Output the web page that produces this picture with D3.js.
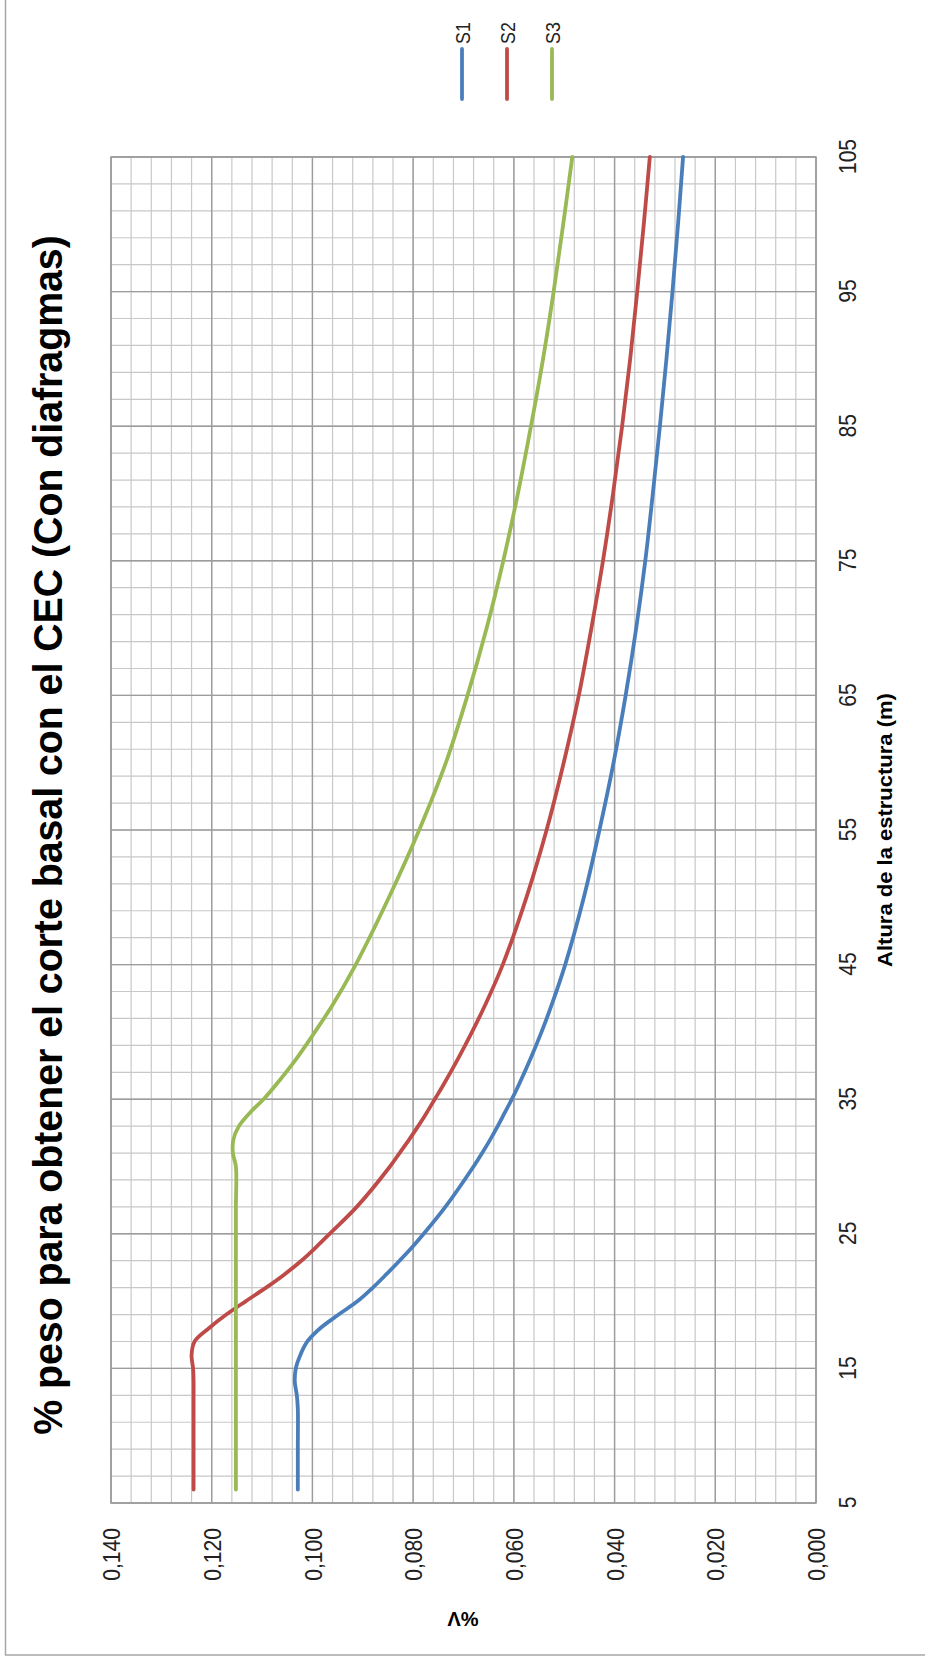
<!DOCTYPE html>
<html><head><meta charset="utf-8">
<script src="https://cdn.jsdelivr.net/npm/d3@7"></script>
<style>html,body{margin:0;padding:0;background:#fff;} svg{display:block;}</style>
</head><body>
<svg id="chart" width="925" height="1661"></svg>
<script>
// ---- data ----
const alturas = [6, 9, 12, 13, 14, 15, 16, 17, 18, 19, 20, 21, 22, 23, 24, 25, 27, 30, 31, 32, 33, 34, 35, 36, 38, 40, 42, 45, 50, 55, 60, 65, 70, 75, 80, 85, 90, 95, 100, 105];
const serieS1 = [0.1029, 0.1029, 0.1029, 0.1031, 0.1035, 0.1033, 0.1024, 0.1010, 0.0984, 0.0948, 0.0910, 0.0880, 0.0853, 0.0827, 0.0802, 0.0779, 0.0736, 0.0680, 0.0663, 0.0647, 0.0632, 0.0618, 0.0604, 0.0591, 0.0567, 0.0545, 0.0525, 0.0498, 0.0461, 0.0430, 0.0402, 0.0378, 0.0357, 0.0339, 0.0324, 0.0310, 0.0297, 0.0285, 0.0274, 0.0264];
const serieS2 = [0.1236, 0.1236, 0.1236, 0.1236, 0.1236, 0.1237, 0.1240, 0.1234, 0.1205, 0.1171, 0.1132, 0.1092, 0.1055, 0.1022, 0.0993, 0.0966, 0.0912, 0.0846, 0.0827, 0.0808, 0.0790, 0.0773, 0.0757, 0.0741, 0.0711, 0.0683, 0.0657, 0.0622, 0.0575, 0.0535, 0.0501, 0.0471, 0.0446, 0.0423, 0.0403, 0.0385, 0.0369, 0.0355, 0.0342, 0.0330];
const serieS3 = [0.1152, 0.1152, 0.1152, 0.1152, 0.1152, 0.1152, 0.1152, 0.1152, 0.1152, 0.1152, 0.1152, 0.1152, 0.1152, 0.1152, 0.1152, 0.1152, 0.1152, 0.1152, 0.1158, 0.1157, 0.1146, 0.1124, 0.1097, 0.1074, 0.1032, 0.0995, 0.0960, 0.0914, 0.0848, 0.0788, 0.0735, 0.0692, 0.0654, 0.0621, 0.0592, 0.0566, 0.0542, 0.0521, 0.0502, 0.0484];
const seriesNames = ["S1", "S2", "S3"];
const seriesColors = ["#4A7EBB", "#BE4B48", "#98B954"];
const xTicks = [5, 15, 25, 35, 45, 55, 65, 75, 85, 95, 105];
const yTicks = [0, 0.02, 0.04, 0.06, 0.08, 0.10, 0.12, 0.14];
const chartTitle = "% peso para obtener el corte basal con el CEC (Con diafragmas)";
const xTitle = "Altura de la estructura (m)";
const yTitle = "%V";

// ---- layout (chart drawn in unrotated frame, then rotated -90deg) ----
const PW = 1661, PH = 925;
const FONT = "'Liberation Sans', Arial, sans-serif";
const svg = d3.select("#chart");

// outer chart border
svg.append("rect").attr("x", 5.5).attr("y", -10).attr("width", 940).attr("height", 1665)
  .attr("fill", "#fff").attr("stroke", "#a6a6a6").attr("stroke-width", 1.5);

const g = svg.append("g").attr("transform", `translate(0,${PW}) rotate(-90)`);

const x = d3.scaleLinear().domain([5, 105]).range([158, 1504]);
const y = d3.scaleLinear().domain([0, 0.14]).range([816, 111]);

// grid
const minorX = d3.range(5, 105.001, 2);
const minorY = d3.range(0, 0.14001, 0.004);
const grid = g.append("g");
grid.selectAll("line.mx").data(minorX).join("line").attr("class", "mx")
  .attr("x1", d => x(d)).attr("x2", d => x(d)).attr("y1", y(0)).attr("y2", y(0.14))
  .attr("stroke", "#c8c8c8").attr("stroke-width", 1.2);
grid.selectAll("line.my").data(minorY).join("line").attr("class", "my")
  .attr("y1", d => y(d)).attr("y2", d => y(d)).attr("x1", x(5)).attr("x2", x(105))
  .attr("stroke", "#c8c8c8").attr("stroke-width", 1.2);
grid.selectAll("line.Mx").data(xTicks).join("line").attr("class", "Mx")
  .attr("x1", d => x(d)).attr("x2", d => x(d)).attr("y1", y(0)).attr("y2", y(0.14))
  .attr("stroke", "#9c9c9c").attr("stroke-width", 1.4);
grid.selectAll("line.My").data(yTicks).join("line").attr("class", "My")
  .attr("y1", d => y(d)).attr("y2", d => y(d)).attr("x1", x(5)).attr("x2", x(105))
  .attr("stroke", "#9c9c9c").attr("stroke-width", 1.4);
g.append("rect").attr("x", x(5)).attr("y", y(0.14)).attr("width", x(105) - x(5)).attr("height", y(0) - y(0.14))
  .attr("fill", "none").attr("stroke", "#9c9c9c").attr("stroke-width", 1.5);

// axes
const TS = 0.88;
const fmtES = d3.formatLocale({decimal: ",", thousands: ".", grouping: [3], currency: ["", "€"]}).format(".3f");
const gx = g.append("g").attr("transform", `translate(0,${y(0)})`)
  .call(d3.axisBottom(x).tickValues(xTicks).tickSize(0).tickPadding(0).tickFormat(d3.format("d")));
gx.select(".domain").remove();
gx.selectAll("text").attr("y", 40).attr("dy", null).attr("font-size", 24).attr("font-family", FONT)
  .attr("fill", "#222").attr("transform", `scale(${TS},1)`);

const gy = g.append("g").attr("transform", `translate(${x(5)},0)`)
  .call(d3.axisLeft(y).tickValues(yTicks).tickSize(0).tickPadding(0).tickFormat(fmtES));
gy.select(".domain").remove();
gy.selectAll("text").attr("x", -25 / TS).attr("dy", "0.36em").attr("font-size", 24).attr("font-family", FONT)
  .attr("fill", "#222").attr("text-anchor", "end").attr("transform", `scale(${TS},1)`);

// series
const line = d3.line().x((d, i) => x(alturas[i])).y(d => y(d)).curve(d3.curveCatmullRom.alpha(0.5));
const allSeries = [serieS1, serieS2, serieS3];
g.append("g").selectAll("path").data(allSeries).join("path")
  .attr("d", d => line(d)).attr("fill", "none")
  .attr("stroke", (d, i) => seriesColors[i]).attr("stroke-width", 3.8)
  .attr("stroke-linecap", "round").attr("stroke-linejoin", "round");

// fitted text helper
function fitText(parent, str, cx, cy, size, weight, target) {
  const t = parent.append("g").attr("transform", `translate(${cx},${cy})`).append("text")
    .attr("text-anchor", "middle").attr("font-size", size).attr("font-weight", weight)
    .attr("font-family", FONT).attr("fill", "#000").text(str);
  const L = t.node().getComputedTextLength();
  t.attr("transform", `scale(${target / L},1)`);
  return t;
}
fitText(g, chartTitle, 826, 62, 41, "bold", 1200);
fitText(g, xTitle, 831, 892, 20, "bold", 274);

g.append("text").attr("transform", `translate(42,463) rotate(-90)`)
  .attr("text-anchor", "middle").attr("dy", "0.36em").attr("font-size", 20).attr("font-weight", "bold")
  .attr("font-family", FONT).attr("fill", "#000").text(yTitle);

// legend
const leg = g.append("g").selectAll("g").data(seriesNames).join("g")
  .attr("transform", (d, i) => `translate(1562,${462 + i * 45})`);
leg.append("line").attr("x1", 0).attr("x2", 50).attr("y1", 0).attr("y2", 0)
  .attr("stroke", (d, i) => seriesColors[i]).attr("stroke-width", 3.8).attr("stroke-linecap", "round");
leg.append("g").attr("transform", "translate(55,0)").append("text")
  .attr("dy", "0.36em").attr("font-size", 21).attr("font-family", FONT).attr("fill", "#222")
  .attr("transform", "scale(0.85,1)").text(d => d);
</script>
</body></html>
